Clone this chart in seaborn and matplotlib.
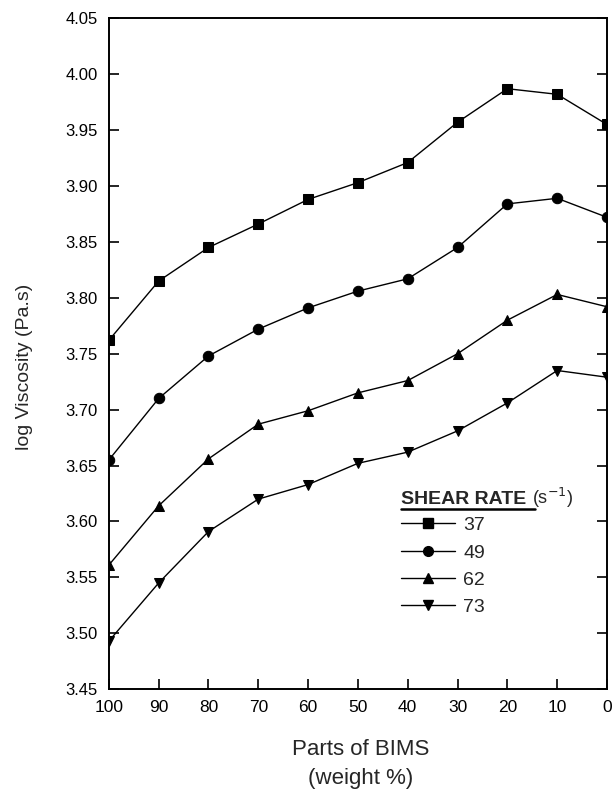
import matplotlib
matplotlib.use("Agg")
import matplotlib.pyplot as plt
import seaborn as sns
import pandas as pd
from matplotlib.lines import Line2D

parts = [100, 90, 80, 70, 60, 50, 40, 30, 20, 10, 0]
sr37 = [3.762, 3.815, 3.845, 3.866, 3.888, 3.903, 3.921, 3.957, 3.987, 3.982, 3.955]
sr49 = [3.655, 3.710, 3.748, 3.772, 3.791, 3.806, 3.817, 3.845, 3.884, 3.889, 3.872]
sr62 = [3.561, 3.614, 3.656, 3.687, 3.699, 3.715, 3.726, 3.750, 3.780, 3.803, 3.792]
sr73 = [3.493, 3.545, 3.591, 3.620, 3.633, 3.652, 3.662, 3.681, 3.706, 3.735, 3.729]
rates = ["37", "49", "62", "73"]
series = [sr37, sr49, sr62, sr73]
yticks = [3.45, 3.50, 3.55, 3.60, 3.65, 3.70, 3.75, 3.80, 3.85, 3.90, 3.95, 4.00, 4.05]
xticks = [100, 90, 80, 70, 60, 50, 40, 30, 20, 10, 0]

rows = []
for r, s in zip(rates, series):
    for p, v in zip(parts, s):
        rows.append({"parts": p, "visc": v, "rate": r})
df = pd.DataFrame(rows)

sns.set_theme(style="ticks")
plt.rcParams['font.family'] = ['Liberation Sans', 'DejaVu Sans']

fig = plt.figure(figsize=(6.15, 7.94), dpi=100)
ax = fig.add_axes([0.177, 0.132, 0.810, 0.845])

markers = {"37": "s", "49": "o", "62": "^", "73": "v"}
dashes = {r: "" for r in rates}
sns.lineplot(data=df, x="parts", y="visc", style="rate", markers=markers,
             dashes=dashes, color="black", markersize=7.5, linewidth=1.0,
             markeredgecolor="black", ax=ax, legend=False)

ax.set_xlim(100, 0)
ax.set_ylim(3.45, 4.05)
ax.set_xticks(xticks)
ax.set_yticks(yticks)
ax.set_yticklabels([f"{t:.2f}" for t in yticks])
for s in ax.spines.values():
    s.set_color("black")
    s.set_linewidth(1.4)
ax.tick_params(axis="both", direction="in", length=7, width=1.2, colors="black",
               right=True, top=False)
ax.tick_params(axis="y", labelsize=12, pad=8)
ax.tick_params(axis="x", labelsize=12.5, pad=8)

ax.set_xlabel("Parts of BIMS\n(weight %)", fontsize=16, linespacing=1.5,
              va="top")
ax.xaxis.set_label_coords(0.505, -0.074)
ax.set_ylabel("log Viscosity (Pa.s)", fontsize=14)
ax.yaxis.set_label_coords(-0.153, 0.481)

handles = [Line2D([], [], color="black", marker=markers[r], markersize=7,
                  linewidth=1.0, linestyle="-") for r in rates]
leg = ax.legend(handles, rates, loc="center left", bbox_to_anchor=(0.587, 0.183),
                frameon=False, fontsize=14, handlelength=2.75, handletextpad=0.45,
                labelspacing=0.5, borderaxespad=0, borderpad=0)
ax.text(0.587, 0.276, "SHEAR RATE", transform=ax.transAxes, fontsize=14,
        fontweight="bold", ha="left", va="baseline")
ax.text(0.85, 0.276, "(s$^{-1}$)", transform=ax.transAxes, fontsize=13,
        ha="left", va="baseline")
ax.add_line(Line2D([0.587, 0.856], [0.268, 0.268], transform=ax.transAxes,
                   color="black", linewidth=1.8))

fig.savefig("out.png", dpi=100)
